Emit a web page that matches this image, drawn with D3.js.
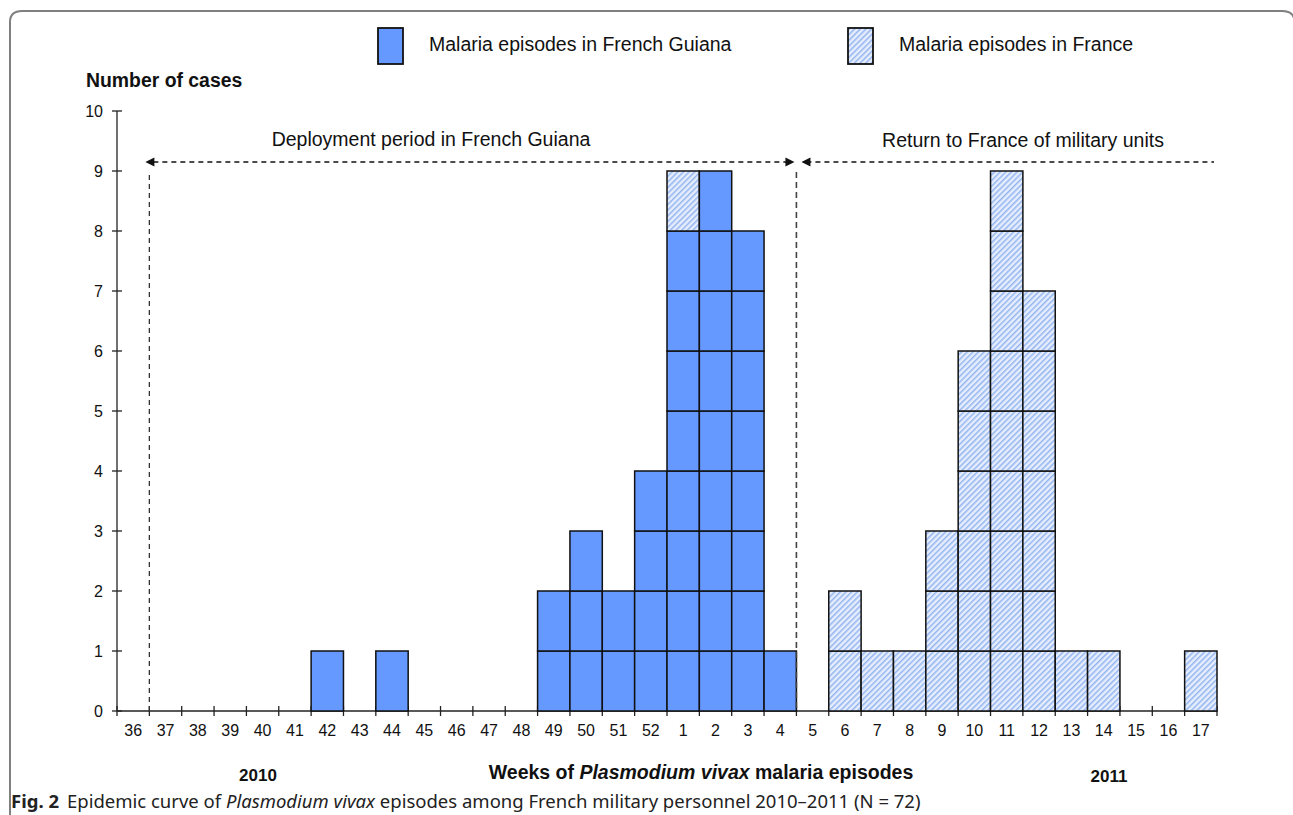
<!DOCTYPE html>
<html lang="en">
<head>
<meta charset="UTF-8">
<title>Epidemic curve</title>
<script src="https://d3js.org/d3.v7.min.js"></script>
<style>
  body { margin: 0; background: #fff; }
  text { font-family: "Liberation Sans", Arial, sans-serif; fill: #111; }
</style>
</head>
<body>
<div id="chart"></div>
<script>
// weeks 36-52 of 2010 then 1-17 of 2011
const weeks = ["36","37","38","39","40","41","42","43","44","45","46","47","48","49","50","51","52",
               "1","2","3","4","5","6","7","8","9","10","11","12","13","14","15","16","17"];
const guiana = [0,0,0,0,0,0,1,0,1,0,0,0,0,2,3,2,4, 8,9,8,1,0,0,0,0,0,0,0,0,0,0,0,0,0];
const france = [0,0,0,0,0,0,0,0,0,0,0,0,0,0,0,0,0, 1,0,0,0,0,2,1,1,3,6,9,7,1,1,0,0,1];
const yTicks = [0,1,2,3,4,5,6,7,8,9,10];

const W = 1293, H = 815;
const svg = d3.select("#chart").append("svg")
    .attr("width", W).attr("height", H);

// hatch pattern for France
const defs = svg.append("defs");
const pat = defs.append("pattern")
    .attr("id", "hatch")
    .attr("patternUnits", "userSpaceOnUse")
    .attr("width", 4).attr("height", 4)
    .attr("patternTransform", "rotate(45)");
pat.append("rect").attr("width", 4).attr("height", 4).attr("fill", "#e6eefd");
pat.append("rect").attr("x", 0).attr("width", 1.5).attr("height", 4).attr("fill", "#93b4f0");

// frame
svg.append("path")
    .attr("d", "M10,830 L10,22 Q10,11 22,11 L1282,11 Q1292,11 1294,18")
    .attr("fill", "none").attr("stroke", "#808080").attr("stroke-width", 2);

const x = d3.scaleBand().domain(weeks).range([117, 1217]).padding(0);
const y = d3.scaleLinear().domain([0, 10]).range([711, 111]);
const bw = x.bandwidth();

// x axis line + ticks at band boundaries
svg.append("line").attr("x1", 117).attr("x2", 1217).attr("y1", y(0)).attr("y2", y(0))
    .attr("stroke", "#222").attr("stroke-width", 1.3);
svg.selectAll(".xtick").data(weeks.concat(["end"])).enter().append("line")
    .attr("x1", (d, i) => 117 + i * bw).attr("x2", (d, i) => 117 + i * bw)
    .attr("y1", y(0) - 5).attr("y2", y(0) + 5)
    .attr("stroke", "#222").attr("stroke-width", 1.3);
svg.selectAll(".xlab").data(weeks).enter().append("text")
    .attr("x", d => x(d) + bw / 2).attr("y", y(0) + 25)
    .attr("text-anchor", "middle").attr("font-size", 16).text(d => d);

// y axis
svg.append("line").attr("x1", 117).attr("x2", 117).attr("y1", y(10)).attr("y2", y(0))
    .attr("stroke", "#222").attr("stroke-width", 1.3);
svg.selectAll(".ytick").data(yTicks).enter().append("line")
    .attr("x1", 112).attr("x2", 122).attr("y1", d => y(d)).attr("y2", d => y(d))
    .attr("stroke", "#222").attr("stroke-width", 1.3);
svg.selectAll(".ylab").data(yTicks).enter().append("text")
    .attr("x", 103).attr("y", d => y(d) + 6)
    .attr("text-anchor", "end").attr("font-size", 16).text(d => d);

// one cell per case, guiana first then france stacked on top
const cells = [];
weeks.forEach((w, i) => {
  for (let k = 0; k < guiana[i]; k++) cells.push({ w, k, type: "g" });
  for (let k = 0; k < france[i]; k++) cells.push({ w, k: guiana[i] + k, type: "f" });
});
svg.selectAll(".cell").data(cells).enter().append("rect")
    .attr("x", d => x(d.w)).attr("y", d => y(d.k + 1))
    .attr("width", bw).attr("height", y(0) - y(1))
    .attr("fill", d => d.type === "g" ? "#6699ff" : "url(#hatch)")
    .attr("stroke", "#111").attr("stroke-width", 1.5);

// period markers
const dash = "5,4";
const xStart = 117 + bw, xSplit = x("5");
svg.append("line").attr("x1", xStart).attr("x2", xStart).attr("y1", y(9) + 4).attr("y2", y(0))
    .attr("stroke", "#333").attr("stroke-dasharray", dash).attr("stroke-width", 1.3);
svg.append("line").attr("x1", xSplit).attr("x2", xSplit).attr("y1", y(9) + 1).attr("y2", y(0))
    .attr("stroke", "#444").attr("stroke-dasharray", "6,4").attr("stroke-width", 1.6);
const ay = y(9) - 9;
svg.append("line").attr("x1", xStart + 4).attr("x2", xSplit - 8).attr("y1", ay).attr("y2", ay)
    .attr("stroke", "#111").attr("stroke-dasharray", dash).attr("stroke-width", 1.5);
svg.append("line").attr("x1", xSplit + 10).attr("x2", 1214).attr("y1", ay).attr("y2", ay)
    .attr("stroke", "#111").attr("stroke-dasharray", dash).attr("stroke-width", 1.5);
const arrow = (tip, dir) => svg.append("path")
    .attr("d", `M${tip},${ay} L${tip - dir * 9},${ay - 4.5} L${tip - dir * 9},${ay + 4.5} Z`)
    .attr("fill", "#111");
arrow(xStart - 4, -1);
arrow(xSplit - 2, 1);
arrow(xSplit + 5, -1);

svg.append("text").attr("x", 431).attr("y", 146).attr("text-anchor", "middle")
    .attr("font-size", 19.5).text("Deployment period in French Guiana");
svg.append("text").attr("x", 1023).attr("y", 147).attr("text-anchor", "middle")
    .attr("font-size", 19.5).text("Return to France of military units");

// titles
svg.append("text").attr("x", 86).attr("y", 87).attr("font-size", 19.4)
    .attr("font-weight", "bold").text("Number of cases");
const xt = svg.append("text").attr("x", 701).attr("y", 779).attr("text-anchor", "middle")
    .attr("font-size", 19.5).attr("font-weight", "bold");
xt.append("tspan").text("Weeks of ");
xt.append("tspan").attr("font-style", "italic").text("Plasmodium vivax");
xt.append("tspan").text(" malaria episodes");
svg.append("text").attr("x", 258).attr("y", 781).attr("text-anchor", "middle")
    .attr("font-size", 17).attr("font-weight", "bold").text("2010");
svg.append("text").attr("x", 1109).attr("y", 782).attr("text-anchor", "middle")
    .attr("font-size", 17).attr("font-weight", "bold").text("2011");

// legend
const legend = [
  { label: "Malaria episodes in French Guiana", fill: "#6699ff", x: 378 },
  { label: "Malaria episodes in France", fill: "url(#hatch)", x: 848 }
];
legend.forEach(l => {
  svg.append("rect").attr("x", l.x).attr("y", 28).attr("width", 25).attr("height", 36)
      .attr("fill", l.fill).attr("stroke", "#111").attr("stroke-width", 1.8);
  svg.append("text").attr("x", l.x + 51).attr("y", 51).attr("font-size", 19.5).text(l.label);
});

// caption
const cap = svg.append("text").attr("x", 11).attr("y", 808)
    .style("font-family", "'Noto Sans', 'Open Sans', sans-serif").attr("font-size", 18.5)
    .style("fill", "#222");
cap.append("tspan").attr("font-weight", "bold").text("Fig. 2");
cap.append("tspan").attr("dx", 8).text("Epidemic curve of ");
cap.append("tspan").attr("font-style", "italic").text("Plasmodium vivax");
cap.append("tspan").text(" episodes among French military personnel 2010\u20132011 (N = 72)");
</script>
</body>
</html>
